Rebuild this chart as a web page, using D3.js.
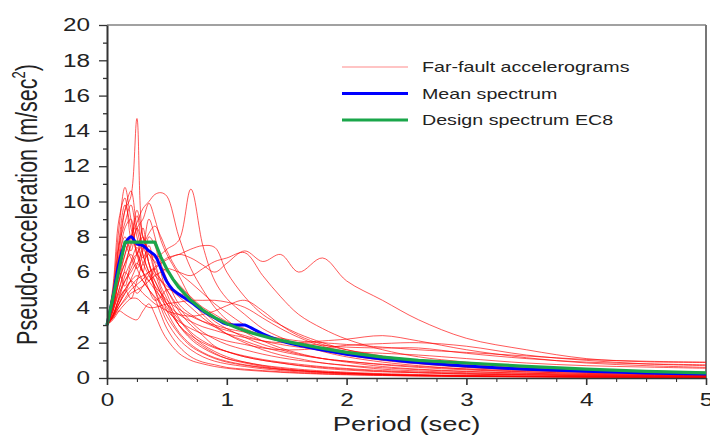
<!DOCTYPE html>
<html>
<head>
<meta charset="utf-8">
<script src="https://cdn.jsdelivr.net/npm/d3@7"></script>
<style>
  body { margin: 0; background: #fff; }
  svg text { font-family: "Liberation Sans", Arial, sans-serif; fill: #222; }
</style>
</head>
<body>
<div id="chart"></div>
<script>
// periods (sec) at which each accelerogram spectrum was read
const periods = [0, 0.05, 0.1, 0.15, 0.2, 0.25, 0.3, 0.35, 0.4, 0.45, 0.5, 0.6, 0.7, 0.8, 0.9,
                 1.0, 1.15, 1.3, 1.45, 1.6, 1.8, 2.0, 2.3, 2.6, 3.0, 3.5, 4.0, 4.5, 5.0];

// pseudo-acceleration (m/sec2) of each far-fault record
const accelerograms = [
  [3.0, 4.5, 7.5, 9.5, 10.3, 14.7, 8.0, 7.2, 6.5, 5.5, 5.0, 3.8, 3.0, 2.4, 1.8, 1.5, 1.2, 1.0, 0.85, 0.7, 0.55, 0.45, 0.35, 0.3, 0.22, 0.17, 0.13, 0.1, 0.08],
  [3.0, 3.8, 4.8, 5.5, 6.2, 7.0, 7.5, 7.2, 6.8, 7.0, 7.3, 7.8, 10.7, 7.5, 5.5, 4.5, 3.6, 2.8, 2.3, 1.9, 1.5, 1.2, 0.9, 0.7, 0.5, 0.35, 0.26, 0.2, 0.16],
  [3.0, 4.0, 5.5, 7.0, 8.0, 8.8, 9.6, 10.0, 10.4, 10.5, 10.3, 8.0, 6.2, 5.0, 4.0, 3.3, 2.6, 2.1, 1.7, 1.4, 1.1, 0.9, 0.65, 0.5, 0.38, 0.27, 0.2, 0.16, 0.13],
  [3.0, 5.0, 8.5, 10.8, 9.0, 7.5, 8.0, 6.5, 5.5, 4.8, 4.2, 3.3, 2.5, 1.9, 1.5, 1.2, 0.9, 0.7, 0.55, 0.45, 0.35, 0.28, 0.2, 0.16, 0.12, 0.09, 0.07, 0.06, 0.05],
  [3.0, 4.5, 7.0, 9.5, 10.6, 8.5, 7.0, 6.0, 5.2, 4.5, 4.0, 3.0, 2.3, 1.8, 1.4, 1.1, 0.85, 0.65, 0.5, 0.42, 0.33, 0.27, 0.2, 0.15, 0.12, 0.09, 0.07, 0.06, 0.05],
  [3.0, 4.2, 5.5, 6.5, 7.5, 8.5, 9.0, 9.9, 9.0, 7.8, 7.0, 5.8, 4.5, 3.6, 3.0, 2.5, 2.0, 1.6, 1.3, 1.1, 0.85, 0.7, 0.5, 0.4, 0.3, 0.22, 0.17, 0.14, 0.11],
  [3.0, 3.6, 4.2, 4.8, 5.2, 5.6, 5.8, 6.0, 6.3, 6.5, 6.7, 7.0, 6.8, 6.4, 6.0, 6.5, 7.2, 6.6, 7.0, 6.0, 6.8, 5.5, 4.4, 3.3, 2.25, 1.6, 1.1, 0.92, 0.88],
  [3.0, 3.5, 4.0, 4.5, 5.0, 5.3, 5.6, 6.0, 6.2, 6.5, 6.8, 7.0, 7.3, 7.5, 7.4, 6.0, 4.6, 3.6, 3.0, 2.5, 2.0, 1.6, 1.2, 0.95, 0.7, 0.5, 0.38, 0.3, 0.25],
  [3.0, 3.4, 4.0, 4.4, 4.8, 5.0, 5.2, 5.5, 5.8, 6.0, 6.2, 6.0, 5.8, 6.2, 6.6, 6.8, 7.1, 5.8, 4.6, 3.6, 2.8, 2.2, 1.6, 1.2, 0.9, 0.65, 0.5, 0.4, 0.33],
  [3.0, 3.6, 4.5, 5.5, 6.0, 6.5, 6.0, 5.5, 5.0, 4.6, 4.2, 3.6, 3.2, 2.9, 2.7, 2.5, 2.3, 2.1, 2.0, 2.0, 2.1, 2.2, 2.4, 2.1, 1.6, 1.15, 0.85, 0.7, 0.6],
  [3.0, 3.5, 4.2, 5.0, 5.5, 5.8, 5.5, 5.0, 4.6, 4.2, 3.8, 3.2, 2.8, 2.5, 2.3, 2.1, 1.9, 1.7, 1.6, 1.6, 1.7, 1.85, 1.95, 2.0, 1.8, 1.3, 1.0, 0.8, 0.7],
  [3.0, 3.3, 3.8, 4.2, 4.5, 4.5, 4.2, 4.0, 4.0, 4.1, 4.2, 4.3, 4.4, 4.4, 4.4, 4.3, 4.0, 3.4, 2.8, 2.3, 1.8, 1.5, 1.1, 0.85, 0.62, 0.45, 0.35, 0.28, 0.23],
  [3.0, 3.5, 4.5, 5.0, 5.5, 5.2, 4.8, 4.5, 4.2, 4.0, 3.8, 3.6, 3.5, 3.6, 3.8, 4.1, 4.4, 3.8, 3.0, 2.4, 1.9, 1.6, 1.25, 1.0, 0.78, 0.57, 0.44, 0.35, 0.3],
  [3.0, 3.4, 3.8, 3.6, 3.4, 3.3, 3.8, 4.2, 3.6, 2.8, 2.2, 1.4, 1.0, 0.8, 0.65, 0.55, 0.45, 0.38, 0.32, 0.27, 0.22, 0.18, 0.14, 0.11, 0.08, 0.06, 0.05, 0.04, 0.03],
  [3.0, 4.0, 5.5, 6.5, 7.0, 6.2, 5.5, 5.0, 4.5, 3.6, 2.8, 1.8, 1.2, 0.9, 0.75, 0.6, 0.5, 0.42, 0.35, 0.3, 0.24, 0.2, 0.15, 0.12, 0.09, 0.07, 0.05, 0.04, 0.04],
  [3.0, 4.5, 6.8, 8.0, 7.2, 8.5, 7.5, 6.5, 5.0, 4.0, 3.2, 2.2, 1.6, 1.2, 0.95, 0.8, 0.65, 0.52, 0.42, 0.35, 0.28, 0.23, 0.17, 0.13, 0.1, 0.07, 0.05, 0.04, 0.04],
  [3.0, 5.2, 9.0, 10.2, 8.0, 9.2, 7.0, 6.0, 5.5, 4.8, 3.8, 2.6, 1.9, 1.45, 1.15, 0.95, 0.75, 0.6, 0.5, 0.42, 0.34, 0.28, 0.21, 0.16, 0.12, 0.09, 0.07, 0.05, 0.05],
  [3.0, 4.8, 6.0, 5.2, 6.5, 7.0, 6.0, 5.5, 6.2, 5.2, 4.5, 3.0, 2.2, 1.7, 1.35, 1.1, 0.9, 0.72, 0.6, 0.5, 0.4, 0.33, 0.25, 0.2, 0.15, 0.11, 0.08, 0.07, 0.06],
  [3.0, 3.8, 5.0, 6.0, 5.5, 4.8, 5.2, 5.8, 5.0, 4.2, 3.5, 2.5, 1.8, 1.4, 1.1, 0.9, 0.72, 0.58, 0.48, 0.4, 0.32, 0.26, 0.2, 0.15, 0.11, 0.08, 0.06, 0.05, 0.04],
  [3.0, 4.2, 7.5, 8.8, 9.8, 8.0, 6.8, 7.5, 6.0, 5.0, 4.2, 3.0, 2.4, 2.0, 1.7, 1.5, 1.25, 1.05, 0.9, 0.78, 0.64, 0.54, 0.42, 0.34, 0.26, 0.19, 0.15, 0.12, 0.1],
  [3.0, 3.6, 4.4, 5.0, 4.5, 5.5, 6.5, 7.0, 6.0, 5.6, 5.0, 4.0, 3.2, 2.6, 2.2, 1.9, 1.6, 1.35, 1.15, 1.0, 0.85, 0.72, 0.58, 0.47, 0.36, 0.27, 0.21, 0.17, 0.14],
  [3.0, 4.8, 7.8, 9.8, 8.5, 7.0, 6.0, 8.0, 7.5, 6.0, 4.8, 3.4, 2.6, 2.1, 1.75, 1.5, 1.2, 1.0, 0.85, 0.72, 0.6, 0.5, 0.38, 0.3, 0.23, 0.17, 0.13, 0.1, 0.09],
  [3.0, 3.8, 5.8, 7.0, 8.0, 7.2, 6.0, 5.0, 4.4, 4.6, 5.0, 4.8, 4.5, 3.8, 3.2, 2.8, 2.3, 1.9, 1.6, 1.35, 1.1, 0.95, 0.75, 0.6, 0.46, 0.34, 0.27, 0.22, 0.18],
  [3.0, 4.0, 6.5, 8.5, 9.0, 7.0, 8.5, 6.5, 5.8, 5.5, 5.2, 4.6, 4.0, 3.4, 2.9, 2.5, 2.1, 1.75, 1.5, 1.3, 1.1, 0.95, 0.78, 0.65, 0.52, 0.4, 0.32, 0.27, 0.23],
  [3.0, 3.5, 4.2, 4.8, 5.6, 6.4, 7.4, 8.2, 8.6, 8.0, 7.2, 6.0, 5.4, 4.8, 4.2, 3.7, 3.0, 2.5, 2.15, 1.85, 1.55, 1.3, 1.0, 0.8, 0.6, 0.45, 0.35, 0.28, 0.24],
  [3.0, 4.6, 6.0, 7.5, 6.8, 6.2, 7.2, 9.0, 8.0, 6.5, 5.6, 4.2, 3.6, 3.2, 2.9, 2.7, 2.4, 2.1, 1.9, 1.75, 1.6, 1.5, 1.4, 1.3, 1.1, 0.85, 0.7, 0.62, 0.55],
  [3.0, 4.0, 5.0, 6.2, 7.8, 9.5, 8.0, 7.0, 6.6, 6.3, 6.0, 5.3, 4.6, 4.0, 3.6, 3.2, 2.8, 2.4, 2.15, 2.0, 1.85, 1.75, 1.7, 1.7, 1.4, 1.1, 0.9, 0.8, 0.75],
  [3.0, 3.5, 4.6, 5.8, 6.6, 7.4, 6.5, 5.8, 5.2, 4.8, 4.4, 3.9, 3.5, 3.2, 3.0, 2.8, 2.6, 2.4, 2.25, 2.1, 2.0, 1.9, 1.75, 1.6, 1.45, 1.25, 1.05, 0.95, 0.9]
];

// mean spectrum
const meanPeriods = [0, 0.05, 0.1, 0.15, 0.2, 0.25, 0.3, 0.35, 0.4, 0.45, 0.5, 0.55, 0.6, 0.7, 0.8, 0.9,
                     1.0, 1.1, 1.15, 1.2, 1.3, 1.45, 1.6, 1.8, 2.0, 2.3, 2.6, 3.0, 3.5, 4.0, 4.5, 5.0];
const meanValues = [3.0, 4.6, 6.5, 7.6, 8.0, 7.6, 7.5, 7.2, 6.95, 6.2, 5.45, 5.0, 4.75, 4.3, 3.8, 3.4,
                    3.05, 3.0, 3.0, 2.85, 2.5, 2.1, 1.85, 1.58, 1.35, 1.08, 0.88, 0.68, 0.5, 0.38, 0.29, 0.22];

// EC8 design spectrum
const designPeriods = [0, 0.15, 0.4, 0.45, 0.5, 0.55, 0.6, 0.7, 0.8, 0.9, 1.0, 1.1, 1.2, 1.4, 1.6,
                       1.8, 2.0, 2.3, 2.6, 3.0, 3.5, 4.0, 4.5, 5.0];
const designValues = [3.0, 7.7, 7.7, 6.85, 6.16, 5.6, 5.13, 4.4, 3.85, 3.42, 3.08, 2.8, 2.57, 2.2, 1.93,
                      1.68, 1.45, 1.18, 1.0, 0.85, 0.66, 0.5, 0.38, 0.29];

const xTicks = [0, 1, 2, 3, 4, 5];
const yTicks = [0, 2, 4, 6, 8, 10, 12, 14, 16, 18, 20];
const legendLabels = ['Far-fault accelerograms', 'Mean spectrum', 'Design spectrum EC8'];
const legendColors = ['#ff8a8a', '#0000ff', '#1aa64a'];

const W = 710, H = 435;
const margin = { top: 25, right: 4, bottom: 57, left: 107 };
const width = W - margin.left - margin.right;
const height = H - margin.top - margin.bottom;

const svg = d3.select('#chart').append('svg')
    .attr('width', W)
    .attr('height', H);

const g = svg.append('g')
    .attr('transform', `translate(${margin.left},${margin.top})`);

const x = d3.scaleLinear().domain([0, 5]).range([0, width]);
const y = d3.scaleLinear().domain([0, 20]).range([height, 0]);

// the source picture is stretched sideways, so text is widened to match
function widen(sel, k) {
    sel.each(function() {
        const w = this.getComputedTextLength();
        d3.select(this).attr('textLength', w * k).attr('lengthAdjust', 'spacingAndGlyphs');
    });
}

// frame (top and right)
g.append('line').attr('x1', 0).attr('x2', width).attr('y1', 0).attr('y2', 0)
    .attr('stroke', '#444').attr('stroke-width', 1.2);
g.append('line').attr('x1', width).attr('x2', width).attr('y1', 0).attr('y2', height)
    .attr('stroke', '#777').attr('stroke-width', 2);

// records
const line = d3.line()
    .x(d => x(d[0]))
    .y(d => y(d[1]))
    .curve(d3.curveCatmullRom.alpha(0.5));

accelerograms.forEach(vals => {
    g.append('path')
        .datum(periods.map((p, i) => [p, vals[i]]))
        .attr('d', line)
        .attr('fill', 'none')
        .attr('stroke', '#ff0000')
        .attr('stroke-opacity', 0.65)
        .attr('stroke-width', 1);
});

const straight = d3.line().x(d => x(d[0])).y(d => y(d[1]));

g.append('path')
    .datum(meanPeriods.map((p, i) => [p, meanValues[i]]))
    .attr('d', line)
    .attr('fill', 'none')
    .attr('stroke', '#0000ff')
    .attr('stroke-width', 3);

g.append('path')
    .datum(designPeriods.map((p, i) => [p, designValues[i]]))
    .attr('d', straight)
    .attr('fill', 'none')
    .attr('stroke', '#1aa64a')
    .attr('stroke-width', 3.2)
    .attr('stroke-linejoin', 'round');

// axes
const yMinor = d3.range(1, 20, 2);
const xMinor = d3.range(0.25, 5, 0.25).filter(v => Math.abs(v - Math.round(v)) > 0.01);

g.append('g')
    .call(d3.axisLeft(y).tickValues(yMinor).tickSize(4).tickFormat(''))
    .call(a => a.select('.domain').remove())
    .selectAll('line').attr('stroke', '#333').attr('stroke-width', 1.3);

g.append('g')
    .attr('transform', `translate(0,${height})`)
    .call(d3.axisBottom(x).tickValues(xMinor).tickSize(4).tickFormat(''))
    .call(a => a.select('.domain').remove())
    .selectAll('line').attr('stroke', '#333').attr('stroke-width', 1.1);

const yAxis = g.append('g')
    .call(d3.axisLeft(y).tickValues(yTicks).tickSize(8).tickSizeOuter(0).tickPadding(9));
yAxis.select('.domain').attr('stroke', '#333').attr('stroke-width', 2);
yAxis.selectAll('line').attr('stroke', '#333').attr('stroke-width', 1.3);
yAxis.selectAll('text')
    .style('font-size', '18px')
    .style('font-family', '"Liberation Sans", Arial, sans-serif')
    .attr('fill', '#222')
    .call(widen, 1.35);

const xAxis = g.append('g')
    .attr('transform', `translate(0,${height})`)
    .call(d3.axisBottom(x).tickValues(xTicks).tickFormat(d3.format('d'))
        .tickSize(7).tickSizeOuter(0).tickPadding(8));
xAxis.select('.domain').attr('stroke', '#333').attr('stroke-width', 1.3);
xAxis.selectAll('line').attr('stroke', '#333').attr('stroke-width', 1.6);
xAxis.selectAll('text')
    .style('font-size', '18px')
    .style('font-family', '"Liberation Sans", Arial, sans-serif')
    .attr('fill', '#222')
    .call(widen, 1.35);

// axis titles
svg.append('text')
    .attr('x', margin.left + width / 2)
    .attr('y', 431)
    .attr('text-anchor', 'middle')
    .style('font-size', '20px')
    .text('Period (sec)')
    .call(widen, 1.37);

const yTitle = svg.append('text')
    .attr('transform', `translate(37,${margin.top + height / 2 + 3}) scale(1.35,1) rotate(-90)`)
    .attr('text-anchor', 'middle')
    .style('font-size', '21.5px');
yTitle.append('tspan').text('Pseudo-acceleration (m/sec');
yTitle.append('tspan').attr('dy', -9).style('font-size', '13px').text('2');
yTitle.append('tspan').attr('dy', 9).text(')');

// legend
const legend = svg.append('g').attr('transform', 'translate(342, 67)');
legendLabels.forEach((label, i) => {
    const row = legend.append('g').attr('transform', `translate(0, ${i * 26.5})`);
    row.append('line')
        .attr('x1', 0).attr('x2', 66)
        .attr('stroke', legendColors[i])
        .attr('stroke-width', i === 0 ? 1.2 : 3);
    row.append('text')
        .attr('x', 80)
        .attr('dy', '0.35em')
        .style('font-size', '15px')
        .text(label)
        .call(widen, 1.31);
});
</script>
</body>
</html>
